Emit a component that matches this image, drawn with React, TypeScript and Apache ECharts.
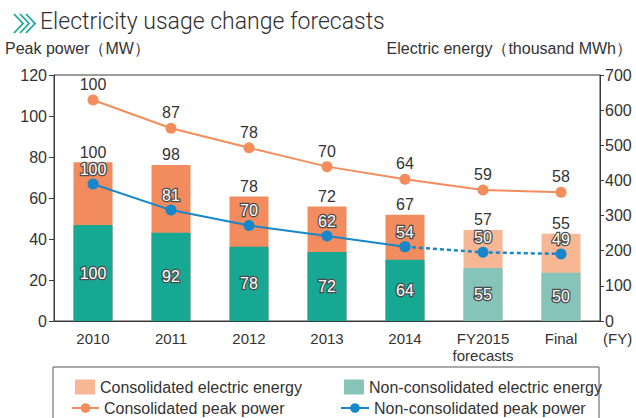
import React, { useEffect, useRef } from "react";
import * as echarts from "echarts";

const categories = ["2010", "2011", "2012", "2013", "2014", "FY2015\nforecasts", "Final"];
// Electric energy (thousand MWh) - right axis
const consolidatedEnergy = [452, 444, 354, 326, 302, 259, 248];
const nonConsolidatedEnergy = [273, 251, 211, 196, 174, 151, 137];
// Peak power (MW) - left axis
const consolidatedPeak = [107.8, 94, 84.5, 75.3, 69.1, 63.9, 62.8];
const nonConsolidatedPeak = [66.8, 54.1, 46.6, 41.5, 36.2, 33.5, 32.7];
// Index labels (2010 = 100)
const consolidatedEnergyIdx = [100, 98, 78, 72, 67, 57, 55];
const nonConsolidatedEnergyIdx = [100, 92, 78, 72, 64, 55, 50];
const consolidatedPeakIdx = [100, 87, 78, 70, 64, 59, 58];
const nonConsolidatedPeakIdx = [100, 81, 70, 62, 54, 50, 49];
const forecastFlags = [false, false, false, false, false, true, true];
const leftTicks = { min: 0, max: 120, interval: 20 };
const rightTicks = { min: 0, max: 700, interval: 100 };

const ORANGE = "#F28B5E";
const ORANGE_LIGHT = "#F8B794";
const TEAL = "#17A894";
const TEAL_LIGHT = "#86C4B9";
const LINE_ORANGE = "#F58C5B";
const LINE_BLUE = "#1787CB";
const TXT = "#333333";
const FONT = "'Liberation Sans', Arial, sans-serif";

export default function App() {
  const ref = useRef<HTMLDivElement>(null);
  useEffect(() => {
    if (!ref.current) return;
    const chart = echarts.init(ref.current, null, { renderer: "svg" });

    const lastSolid = 4;
    const blueSolid = nonConsolidatedPeak.map((v, i) => (i <= lastSolid ? v : "-"));
    const blueDashed = nonConsolidatedPeak.map((v, i) => (i >= lastSolid ? v : "-"));

    const chevrons = [14, 20, 26].map((x) => ({
      type: "polyline",
      shape: { points: [[x, 14], [x + 9, 23.5], [x, 33]] },
      style: { stroke: "#1AA89A", lineWidth: 1.8, fill: null },
    }));

    const outlined = {
      color: "#ffffff",
      textBorderColor: "#4a4a4a",
      textBorderWidth: 2.5,
      fontFamily: FONT,
      fontSize: 16,
    };

    const legendCommon = {
      orient: "vertical",
      itemGap: 4,
      textStyle: { color: TXT, fontFamily: FONT, fontSize: 16 },
      selectedMode: false,
    };

    chart.setOption({
      animation: false,
      backgroundColor: "#ffffff",
      grid: {
        left: 54,
        right: 36,
        top: 75,
        bottom: 97,
        show: true,
        borderColor: "#3a3a3a",
        borderWidth: 1,
      },
      xAxis: {
        type: "category",
        data: categories,
        axisLine: { lineStyle: { color: "#3a3a3a", width: 1 } },
        axisTick: { inside: true, length: 6, lineStyle: { color: "#3a3a3a" } },
        axisLabel: {
          interval: 0,
          color: TXT,
          fontFamily: FONT,
          fontSize: 15,
          margin: 9,
          lineHeight: 17,
        },
      },
      yAxis: [
        {
          type: "value",
          min: leftTicks.min,
          max: leftTicks.max,
          interval: leftTicks.interval,
          splitLine: { show: false },
          axisLine: { show: true, lineStyle: { color: "#3a3a3a" } },
          axisTick: { show: true, length: 5, lineStyle: { color: "#3a3a3a" } },
          axisLabel: { color: TXT, fontFamily: FONT, fontSize: 16, margin: 7 },
        },
        {
          type: "value",
          min: rightTicks.min,
          max: rightTicks.max,
          interval: rightTicks.interval,
          splitLine: { show: false },
          axisLine: { show: true, lineStyle: { color: "#3a3a3a" } },
          axisTick: { show: true, length: 4, lineStyle: { color: "#3a3a3a" } },
          axisLabel: { color: TXT, fontFamily: FONT, fontSize: 16, margin: 5 },
        },
      ],
      legend: [
        {
          ...legendCommon,
          left: 70,
          top: 374,
          itemWidth: 20,
          itemHeight: 15,
          data: [{ name: "Consolidated electric energy", icon: "rect", itemStyle: { color: ORANGE_LIGHT } }],
        },
        {
          ...legendCommon,
          left: 339,
          top: 374,
          itemWidth: 20,
          itemHeight: 15,
          data: [{ name: "Non-consolidated electric energy", icon: "rect", itemStyle: { color: TEAL_LIGHT } }],
        },
        {
          ...legendCommon,
          left: 66,
          top: 395,
          itemWidth: 27,
          itemHeight: 12,
          data: ["Consolidated peak power"],
        },
        {
          ...legendCommon,
          left: 335,
          top: 395,
          itemWidth: 28,
          itemHeight: 12,
          data: ["Non-consolidated peak power"],
        },
      ],
      series: [
        {
          name: "Consolidated electric energy",
          type: "bar",
          yAxisIndex: 1,
          barWidth: "50%",
          barGap: "-100%",
          z: 2,
          data: consolidatedEnergy.map((v, i) => ({
            value: v,
            itemStyle: { color: forecastFlags[i] ? ORANGE_LIGHT : ORANGE },
          })),
          label: {
            show: true,
            position: "top",
            distance: 2,
            color: TXT,
            fontFamily: FONT,
            fontSize: 16,
            formatter: (p: any) => String(consolidatedEnergyIdx[p.dataIndex]),
          },
        },
        {
          name: "Non-consolidated electric energy",
          type: "bar",
          yAxisIndex: 1,
          barWidth: "50%",
          barGap: "-100%",
          z: 3,
          data: nonConsolidatedEnergy.map((v, i) => ({
            value: v,
            itemStyle: { color: forecastFlags[i] ? TEAL_LIGHT : TEAL },
          })),
          label: {
            show: true,
            position: "inside",
            ...outlined,
            formatter: (p: any) => String(nonConsolidatedEnergyIdx[p.dataIndex]),
          },
        },
        {
          name: "Consolidated peak power",
          type: "line",
          yAxisIndex: 0,
          z: 5,
          data: consolidatedPeak,
          symbol: "circle",
          symbolSize: 11,
          itemStyle: { color: LINE_ORANGE },
          lineStyle: { color: LINE_ORANGE, width: 2 },
          label: {
            show: true,
            position: "top",
            distance: 2,
            color: TXT,
            fontFamily: FONT,
            fontSize: 16,
            formatter: (p: any) => String(consolidatedPeakIdx[p.dataIndex]),
          },
        },
        {
          name: "Non-consolidated peak power",
          type: "line",
          yAxisIndex: 0,
          z: 6,
          data: blueSolid,
          symbol: "circle",
          symbolSize: 11,
          itemStyle: { color: LINE_BLUE },
          lineStyle: { color: LINE_BLUE, width: 2 },
          label: {
            show: true,
            position: "top",
            distance: 1,
            ...outlined,
            formatter: (p: any) => String(nonConsolidatedPeakIdx[p.dataIndex]),
          },
        },
        {
          name: "Non-consolidated peak power forecast",
          type: "line",
          yAxisIndex: 0,
          z: 6,
          data: blueDashed,
          symbol: "circle",
          symbolSize: 11,
          itemStyle: { color: LINE_BLUE },
          lineStyle: { color: LINE_BLUE, width: 2.5, type: [4, 3] },
          label: {
            show: true,
            position: "top",
            distance: 1,
            ...outlined,
            formatter: (p: any) =>
              p.dataIndex > lastSolid ? String(nonConsolidatedPeakIdx[p.dataIndex]) : "",
          },
        },
      ],
      graphic: [
        ...chevrons,
        {
          type: "text",
          left: 40,
          top: 10,
          style: {
            text: "Electricity usage change forecasts",
            fill: "#2f2f2f",
            fontFamily: "Roboto, 'Liberation Sans', sans-serif",
            fontWeight: 300,
            fontSize: 23,
          },
        },
        {
          type: "text",
          left: 5,
          top: 40,
          style: {
            text: "Peak power（MW）",
            fill: TXT,
            fontFamily: FONT,
            fontSize: 16,
          },
        },
        {
          type: "text",
          right: 4,
          top: 40,
          style: {
            text: "Electric energy（thousand MWh）",
            fill: TXT,
            fontFamily: FONT,
            fontSize: 16,
          },
        },
        {
          type: "text",
          left: 603,
          top: 331,
          style: { text: "(FY)", fill: TXT, fontFamily: FONT, fontSize: 15 },
        },
        {
          type: "rect",
          shape: { x: 53, y: 367, width: 546, height: 80 },
          style: { fill: null, stroke: "#555555", lineWidth: 1 },
          z: 0,
        },
      ],
    });
    return () => chart.dispose();
  }, []);
  return (
    <div
      ref={ref}
      style={{ position: "absolute", left: 0, top: 0, width: 636, height: 418 }}
    />
  );
}
